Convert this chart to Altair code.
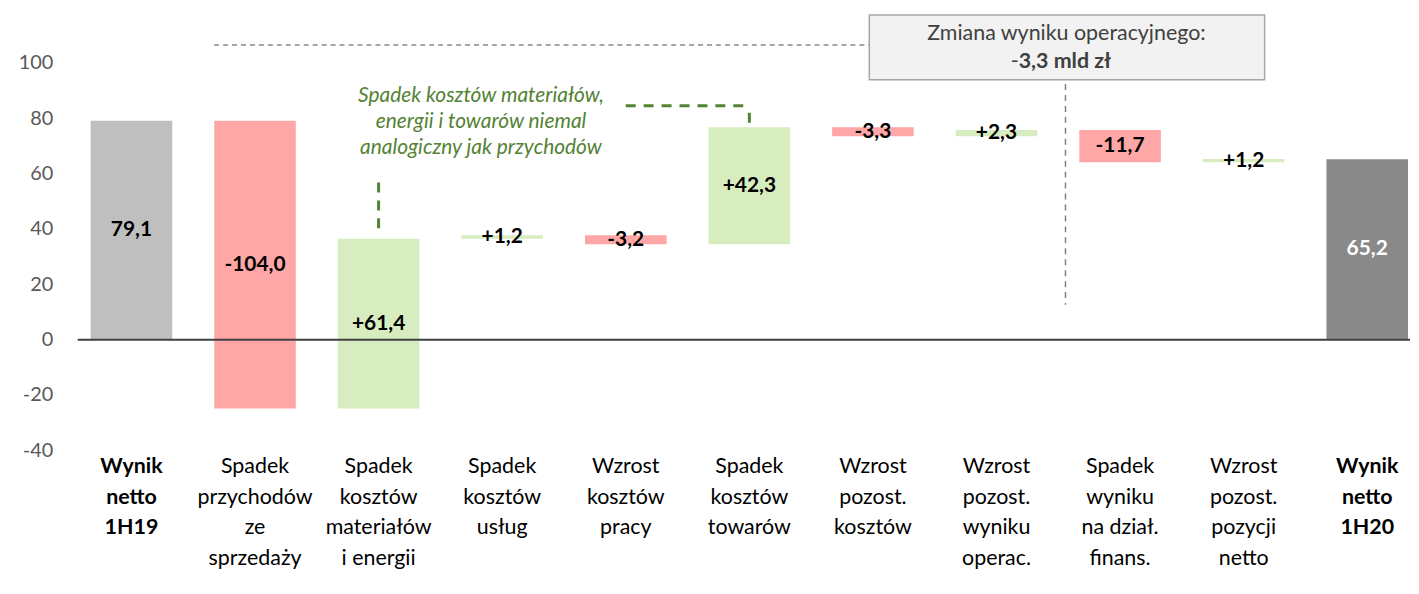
import altair as alt
import pandas as pd

# ---- data ----
categories = [
    "Wynik|netto|1H19",
    "Spadek|przychodów|ze|sprzedaży",
    "Spadek|kosztów|materiałów|i energii",
    "Spadek|kosztów|usług",
    "Wzrost|kosztów|pracy",
    "Spadek|kosztów|towarów",
    "Wzrost|pozost.|kosztów",
    "Wzrost|pozost.|wyniku|operac.",
    "Spadek|wyniku|na dział.|finans.",
    "Wzrost|pozost.|pozycji|netto",
    "Wynik|netto|1H20",
]
values = [79.1, -104.0, 61.4, 1.2, -3.2, 42.3, -3.3, 2.3, -11.7, 1.2, 65.2]
kinds = ["start", "neg", "pos", "pos", "neg", "pos", "neg", "pos", "neg", "pos", "end"]
y_ticks = [-40, -20, 0, 20, 40, 60, 80, 100]

box_lines = ["Zmiana wyniku operacyjnego:", "-", "3,3 mld zł"]
green_note = "Spadek kosztów materiałów,\nenergii i towarów niemal\nanalogiczny jak przychodów"

# ---- waterfall table ----
rows = []
running = 0.0
for cat, v, k in zip(categories, values, kinds):
    if k in ("start", "end"):
        s, e = 0.0, v
        lab = f"{v:.1f}".replace(".", ",")
        running = v
    else:
        s, e = running, running + v
        lab = f"{v:+.1f}".replace(".", ",")
        running = e
    rows.append({"cat": cat, "start": s, "end": e, "mid": (s + e) / 2, "kind": k, "label": lab})
df = pd.DataFrame(rows)

W, H = 1347, 439
FONT = "Lato"
GREEN = "#548235"

x_enc = alt.X(
    "cat:N",
    sort=categories,
    title=None,
    scale=alt.Scale(paddingInner=0.34, paddingOuter=0.0967, align=0.917),
    axis=alt.Axis(
        labelExpr="split(datum.label, '|')",
        labelAngle=0,
        labelFontSize=21.5,
        labelLineHeight=31,
        labelColor="#000000",
        labelBaseline="top",
        labelPadding=5,
        labelLimit=0,
        domain=False,
        ticks=False,
        labelFontWeight={
            "condition": {
                "test": "datum.value == 'Wynik|netto|1H19' || datum.value == 'Wynik|netto|1H20'",
                "value": "bold",
            },
            "value": "normal",
        },
    ),
)
y_scale = alt.Scale(domain=[-40, 118], nice=False, zero=False)
y_axis = alt.Axis(
    values=y_ticks,
    labelExpr="'' + datum.value",
    domain=False,
    ticks=False,
    grid=False,
    labelFontSize=20,
    labelColor="#595959",
    labelPadding=16,
    minExtent=46,
    maxExtent=46,
    title=None,
)

base = alt.Chart(df)

zero_line = base.mark_rule(color="#404040", strokeWidth=2).encode(
    x=alt.value(9), x2=alt.value(W), y=alt.datum(0)
).transform_filter("datum.kind == 'start'")

bars = base.mark_bar().encode(
    x=x_enc,
    y=alt.Y("start:Q", scale=y_scale, axis=y_axis),
    y2="end:Q",
    color=alt.Color(
        "kind:N",
        scale=alt.Scale(domain=["start", "neg", "pos", "end"],
                        range=["#bfbfbf", "#ffa6a6", "#d7edc0", "#898989"]),
        legend=None,
    ),
)

labels = base.mark_text(font=FONT, fontSize=21, fontWeight="bold", baseline="middle").encode(
    x=alt.X("cat:N", sort=categories),
    y=alt.Y("mid:Q"),
    text="label:N",
    color=alt.condition("datum.kind == 'end'", alt.value("#ffffff"), alt.value("#000000")),
)

ann = alt.Chart(pd.DataFrame({"a": [0]}))

gray_h = ann.mark_rule(color="#a6a6a6", strokeWidth=2, strokeDash=[5, 4]).encode(
    x=alt.value(146), x2=alt.value(804), y=alt.datum(106.5)
)
box = ann.mark_rect(fill="#f2f2f2", stroke="#a6a6a6", strokeWidth=1.5).encode(
    x=alt.value(804), x2=alt.value(1201),
    y=alt.datum(117.3), y2=alt.datum(93.9)
)
box_t1 = ann.mark_text(font=FONT, fontSize=21.5, color="#404040", baseline="middle").encode(
    x=alt.value(1002), y=alt.datum(110.4), text=alt.value(box_lines[0])
)
box_t2a = ann.mark_text(font=FONT, fontSize=21.5, color="#404040", baseline="middle", align="right").encode(
    x=alt.value(954), y=alt.datum(100.4), text=alt.value(box_lines[1])
)
box_t2b = ann.mark_text(font=FONT, fontSize=21.5, fontWeight="bold", color="#404040",
                        baseline="middle", align="left").encode(
    x=alt.value(954), y=alt.datum(100.4), text=alt.value(box_lines[2])
)
gray_v = ann.mark_rule(color="#808080", strokeWidth=1.5, strokeDash=[6, 5]).encode(
    x=alt.value(1001), y=alt.datum(92.4), y2=alt.datum(12.6)
)

green_text = ann.mark_text(font=FONT, fontSize=21, fontStyle="italic", color=GREEN,
                           baseline="middle", lineBreak="\n", lineHeight=26).encode(
    x=alt.value(414), y=alt.datum(88.1), text=alt.value(green_note)
)
green_v1 = ann.mark_rule(color=GREEN, strokeWidth=3, strokeDash=[10, 8]).encode(
    x=alt.datum(categories[2]), y=alt.datum(56.8), y2=alt.datum(40.3)
)
green_h = ann.mark_rule(color=GREEN, strokeWidth=3, strokeDash=[10, 8]).encode(
    x=alt.datum(categories[4]), x2=alt.datum(categories[5]), y=alt.datum(84.5)
)
green_v2 = ann.mark_rule(color=GREEN, strokeWidth=3).encode(
    x=alt.datum(categories[5]), y=alt.datum(82.0), y2=alt.datum(78.4)
)

chart = alt.layer(
    bars, zero_line, labels, gray_h, box, box_t1, box_t2a, box_t2b, gray_v,
    green_text, green_v1, green_h, green_v2
).properties(
    width=W, height=H,
    padding={"left": 10, "top": 4, "right": 0, "bottom": 0},
    background="#ffffff",
).configure(font=FONT, view=alt.ViewConfig(strokeWidth=0))

chart.save("out.html", embed_options={"renderer": "svg", "actions": False})
